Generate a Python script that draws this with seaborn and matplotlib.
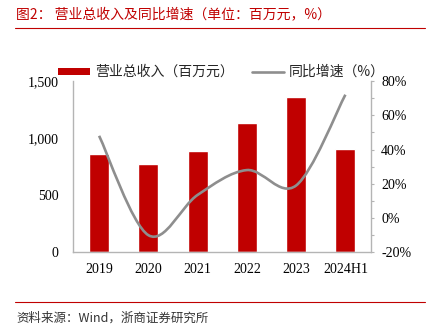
import numpy as np
import pandas as pd
import matplotlib
matplotlib.use('Agg')
import matplotlib.pyplot as plt
import seaborn as sns
from matplotlib.path import Path
from matplotlib.patches import PathPatch, Patch
from matplotlib.lines import Line2D
from matplotlib.ticker import FuncFormatter, MultipleLocator, FixedLocator

# ---- data ----
categories = ['2019', '2020', '2021', '2022', '2023', '2024H1']
revenue = [861, 773, 884, 1132, 1360, 907]          # 营业总收入（百万元）
growth = [48, -10, 13.5, 28, 19, 72]                 # 同比增速（%）
left_ticks = [0, 500, 1000, 1500]
right_ticks = [-20, 0, 20, 40, 60, 80]

RED = '#C00000'
GRAY = '#8E8E8E'
SPINE = '#B4B4B4'

sns.set_theme(style='white')
plt.rcParams['font.family'] = ['Noto Sans CJK SC', 'DejaVu Sans']
SERIF = ['Liberation Serif', 'DejaVu Serif']

W, H = 431, 331
fig = plt.figure(figsize=(W / 100, H / 100), dpi=100)
ax = fig.add_axes([73 / W, 1 - 252.3 / H, (371 - 73) / W, (252.3 - 81) / H])

df = pd.DataFrame({'cat': categories, 'rev': revenue})
sns.barplot(data=df, x='cat', y='rev', color=RED, saturation=1, width=0.41, ax=ax)
ax.set_xlim(-0.53, 5.52)
ax.set_ylim(0, 1500)
ax.set_xlabel('')
ax.set_ylabel('')
ax.yaxis.set_major_locator(FixedLocator(left_ticks))
ax.yaxis.set_major_formatter(FuncFormatter(lambda v, p: f'{int(v):,}'))
ax.tick_params(axis='y', length=0, pad=10.5, labelsize=10, colors='black')
ax.tick_params(axis='x', length=0, pad=7.5, labelsize=10, colors='black')
for lab in ax.get_xticklabels() + ax.get_yticklabels():
    lab.set_family(SERIF)
for s in ['top', 'right']:
    ax.spines[s].set_visible(False)
for s in ['left', 'bottom']:
    ax.spines[s].set_color(SPINE)
    ax.spines[s].set_linewidth(1)

ax2 = ax.twinx()
ax2.set_ylim(-20, 80)
ax2.yaxis.set_major_locator(FixedLocator(right_ticks))
ax2.yaxis.set_minor_locator(MultipleLocator(10))
ax2.yaxis.set_major_formatter(FuncFormatter(lambda v, p: f'{int(v)}%'))
ax2.tick_params(axis='y', which='both', direction='out', length=2.2, width=0.8,
                color=SPINE, pad=5, labelsize=10, labelcolor='black', right=True)
for lab in ax2.get_yticklabels():
    lab.set_family(SERIF)
for s in ['top', 'left', 'bottom']:
    ax2.spines[s].set_visible(False)
ax2.spines['right'].set_color(SPINE)
ax2.spines['right'].set_linewidth(1)

# smoothed growth line (Catmull-Rom as cubic Bezier path)
n = len(growth)
pts = np.column_stack([np.arange(n, dtype=float), np.array(growth, dtype=float)])
verts = [pts[0]]
codes = [Path.MOVETO]
for i in range(n - 1):
    p0 = pts[max(i - 1, 0)]
    p1 = pts[i]
    p2 = pts[i + 1]
    p3 = pts[min(i + 2, n - 1)]
    c1 = p1 + (p2 - p0) / 6
    c2 = p2 - (p3 - p1) / 6
    verts += [c1, c2, p2]
    codes += [Path.CURVE4] * 3
ax2.add_patch(PathPatch(Path(verts, codes), facecolor='none', edgecolor=GRAY,
                        lw=1.9, capstyle='butt', joinstyle='round'))

# legend
handles = [Patch(facecolor=RED, edgecolor='none', label='营业总收入（百万元）'),
           Line2D([], [], color=GRAY, lw=1.9, label='同比增速（%）')]
fig.legend(handles=handles, ncol=2, loc='center left',
           bbox_to_anchor=(58.3 / W, 1 - 72 / H), frameon=False, fontsize=10,
           handlelength=2.3, handleheight=0.4, handletextpad=0.36,
           columnspacing=1.3, borderpad=0, borderaxespad=0)

# title, rules, source
fig.text(16 / W, 1 - 14 / H, '图2： 营业总收入及同比增速（单位：百万元，%）',
         color=RED, fontsize=10, va='center', ha='left')
fig.add_artist(Line2D([15 / W, 425 / W], [1 - 28 / H] * 2, color=RED, lw=0.8,
                      transform=fig.transFigure))
fig.add_artist(Line2D([15 / W, 425 / W], [1 - 302 / H] * 2, color=RED, lw=0.8,
                      transform=fig.transFigure))
fig.text(16 / W, 1 - 318 / H, '资料来源：Wind，浙商证券研究所',
         color='#333333', fontsize=9, va='center', ha='left')

fig.savefig('out.png', dpi=100)
